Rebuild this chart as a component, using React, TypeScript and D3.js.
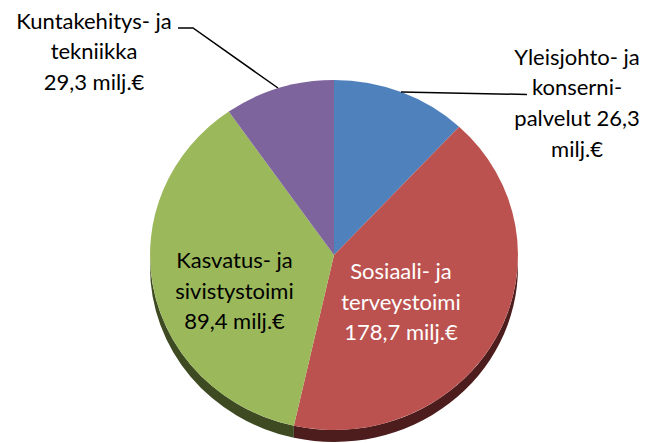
import React from "react";
import * as d3 from "d3";

const categories = ["Yleisjohto- ja konsernipalvelut", "Sosiaali- ja terveystoimi", "Kasvatus- ja sivistystoimi", "Kuntakehitys- ja tekniikka"];
// slice shares as drawn in the picture (percent of the circle)
const sliceShares = [11.9, 41.6, 36.8, 9.7];
const labelValues = ["26,3", "178,7", "89,4", "29,3"];
const topColors = ["#4f81bd", "#bb524f", "#9bb85b", "#7e649c"];
const sideColors = ["#2c4a6e", "#4d1d1d", "#3d4a22", "#46375a"];

const labelLines = [
  ["Yleisjohto- ja", "konserni-", "palvelut 26,3", "milj.€"],
  ["Sosiaali- ja", "terveystoimi", "178,7 milj.€"],
  ["Kasvatus- ja", "sivistystoimi", "89,4 milj.€"],
  ["Kuntakehitys- ja", "tekniikka", "29,3 milj.€"],
];

const W = 648, H = 443;
const cx = 334, cy = 255, rx = 184, ry = 175, depth = 12;
const lineH = 30.7;

export default function App() {
  const pie = d3.pie<number>().sort(null).value((d) => d).startAngle(0).endAngle(2 * Math.PI);
  const arcs = pie(sliceShares);
  const arcGen = d3.arc<d3.PieArcDatum<number>>().innerRadius(0).outerRadius(1);
  const pt = (a: number, dy = 0) => [cx + rx * Math.sin(a), cy - ry * Math.cos(a) + dy];

  const sides = arcs.map((a, i) => {
    const a1 = Math.max(a.startAngle, Math.PI / 2);
    const a2 = Math.min(a.endAngle, (3 * Math.PI) / 2);
    if (a2 <= a1) return null;
    const p1 = pt(a1), p2 = pt(a2), q2 = pt(a2, depth), q1 = pt(a1, depth);
    const large = a2 - a1 > Math.PI ? 1 : 0;
    const d = `M${p1[0]},${p1[1]}A${rx},${ry} 0 ${large} 1 ${p2[0]},${p2[1]}L${q2[0]},${q2[1]}A${rx},${ry} 0 ${large} 0 ${q1[0]},${q1[1]}Z`;
    return <path key={"s" + i} d={d} fill={sideColors[i]} />;
  });

  const font = "Lato, 'Open Sans', sans-serif";
  const fs = 22;

  const textBlock = (lines: string[], x: number, y0: number, fill: string, key: string) => (
    <text key={key} x={x} y={y0} textAnchor="middle" fontFamily={font} fontSize={fs} fill={fill}>
      {lines.map((l, j) => (
        <tspan key={j} x={x} y={y0 + j * lineH}>{l}</tspan>
      ))}
    </text>
  );

  return (
    <svg width={W} height={H} style={{ position: "absolute", left: 0, top: 0, background: "#fff" }}>
      {sides}
      <g transform={`translate(${cx},${cy}) scale(${rx},${ry})`}>
        {arcs.map((a, i) => (
          <path key={"t" + i} d={arcGen(a) as string} fill={topColors[i]} />
        ))}
      </g>
      {/* leader lines */}
      <polyline points="401,92 527,94.5" fill="none" stroke="#000" strokeWidth={1.5} />
      <polyline points="178,28 193,28 278,88" fill="none" stroke="#000" strokeWidth={1.5} />
      {textBlock(labelLines[0], 577, 64.5, "#000", "l0")}
      {textBlock(labelLines[1], 401, 279, "#fff", "l1")}
      {textBlock(labelLines[2], 234.5, 268, "#000", "l2")}
      {textBlock(labelLines[3], 94, 28.5, "#000", "l3")}
    </svg>
  );
}
